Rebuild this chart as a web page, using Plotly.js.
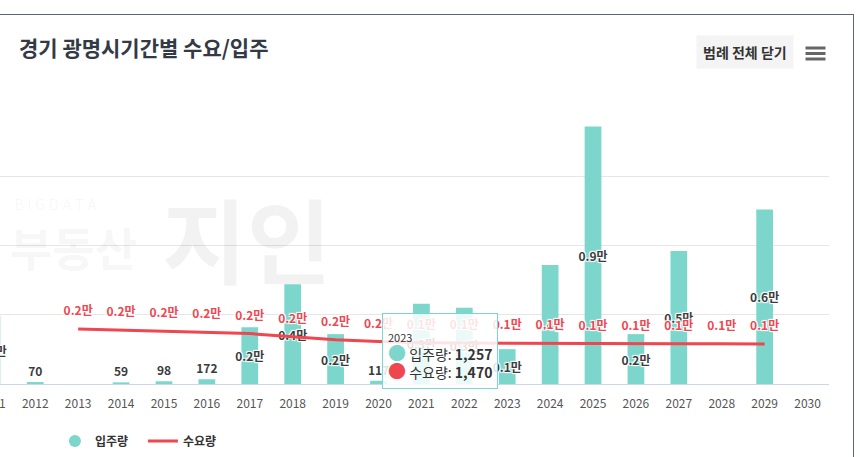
<!DOCTYPE html>
<html>
<head>
<meta charset="utf-8">
<script src="https://cdn.plot.ly/plotly-3.0.1.min.js"></script>
<style>
  html, body { margin:0; padding:0; width:860px; height:457px; overflow:hidden; background:#fff; }
  #frame { position:absolute; left:-150px; top:14px; width:1004px; height:470px; box-sizing:border-box;
           border-top:1px solid #5d6579; border-right:1px solid #5d6579; }
  #chart { position:absolute; left:0; top:0; width:1003px; height:445px; }
</style>
</head>
<body>
<div id="frame"><div id="chart"></div></div>
<script>
// ---- data ----
const years = [2011,2012,2013,2014,2015,2016,2017,2018,2019,2020,2021,2022,2023,2024,2025,2026,2027,2028,2029,2030];
const supply = [2450,70,null,59,98,172,2050,3600,1800,117,2900,2750,1257,4300,9300,1800,4800,null,6300,null];
const demand = [null,null,1990,1950,1910,1870,1820,1710,1600,1530,1490,1480,1470,1465,1460,1455,1450,1450,1445,null];
const tickYears = years;
const supplyName = '입주량';
const demandName = '수요량';
const titleText = '경기 광명시기간별 수요/입주';
const buttonText = '범례 전체 닫기';
const tooltipYear = 2023;

// ---- helpers ----
const FONT = '"Noto Sans CJK KR", "Noto Sans", sans-serif';
const TEAL = '#7cd6cc';
const RED = '#ef4650';
function fmt(v){
  if (v === null || v === undefined) return '';
  if (v >= 1000) return (v/10000).toFixed(1) + '만';
  return String(v);
}
function comma(v){ return v.toLocaleString('en-US'); }

// page-pixel -> paper coordinates (layout positioning only)
const DIVW = 1003, DIVH = 445, ML = 78, MR = 23.5, MT = 92, MB = 76;
const PW = DIVW - ML - MR, PH = DIVH - MT - MB;
function px(xPage){ return (xPage + 150 - ML) / PW; }
function py(yPage){ return (DIVH - MB - (yPage - 15)) / PH; }

const barText = supply.map(fmt);
const barPos = supply.map(v => (v !== null && v < 1000) ? 'outside' : 'inside');
const barColors = years.map((y,i) => i === 0 ? '#f2faf9' : TEAL);
const lineText = demand.map(fmt);

const ti = years.indexOf(tooltipYear);

const traces = [
  {
    type:'bar', x: years, y: supply, name: supplyName, showlegend:false,
    width: 0.39,
    marker:{ color: barColors, line:{ width: years.map((y,i)=> i===0 ? 1 : 0), color:'#dcefed' } },
    text: barText, textposition: barPos, insidetextanchor:'middle', textangle:0,
    constraintext:'none', cliponaxis:false,
    textfont:{ family: FONT, size:12, color:'#3b3b3b', weight:700, shadow:'auto' },
    hoverinfo:'skip'
  },
  {
    type:'scatter', mode:'lines+markers+text', x: years, y: demand, name: demandName,
    line:{ color: RED, width: 3 },
    marker:{ size: 16, color: 'rgba(0,0,0,0)' },
    text: lineText, textposition:'top center', cliponaxis:false,
    textfont:{ family: FONT, size:12, color: RED, weight:700, shadow:'auto' },
    hoverinfo:'skip', legendrank: 2
  },
  {
    type:'scatter', mode:'markers', x:[null], y:[null], name: supplyName,
    marker:{ color: TEAL, size: 12, symbol:'circle' }, legendrank: 1, hoverinfo:'skip'
  }
];

const spacer = '<span style="font-size:20px;color:rgba(0,0,0,0)">●</span>';
const tipText =
  '<span style="font-size:11px">' + tooltipYear + '</span>' + spacer + '<br>' +
  '<span style="color:' + TEAL + ';font-size:18px">●</span> ' + supplyName + ': <b>' + comma(supply[ti]) + '</b><br>' +
  '<span style="color:' + RED + ';font-size:18px">●</span> ' + demandName + ': <b>' + comma(demand[ti]) + '</b>';

const layout = {
  width: DIVW, height: DIVH,
  margin:{ l: ML, r: MR, t: MT, b: MB, pad:0, autoexpand:false },
  paper_bgcolor:'rgba(0,0,0,0)', plot_bgcolor:'rgba(0,0,0,0)',
  font:{ family: FONT, color:'#333' },
  showlegend: true,
  legend:{ orientation:'h', x: px(55), y: py(441), xanchor:'left', yanchor:'middle',
           font:{ family: FONT, size:12, color:'#333', weight:700 }, itemwidth:30,
           entrywidth: 43, entrywidthmode:'pixels',
           traceorder:'normal', bgcolor:'rgba(0,0,0,0)' },
  xaxis:{ range:[2009.5, 2030.5], tickvals: tickYears, ticktext: tickYears.map(String),
          showgrid:false, zeroline:false, showline:true, linecolor:'#ccd6eb', linewidth:1,
          ticks:'', ticklabelstandoff: 9, automargin:false,
          tickfont:{ family: FONT, size:12, color:'#555' }, fixedrange:true },
  yaxis:{ range:[0, 10000], tickvals:[0,2500,5000,7500,10000], showticklabels:false, automargin:false,
          showgrid:true, gridcolor:'#e6e6e6', gridwidth:1, zeroline:false, fixedrange:true },
  bargap: 0.6,
  annotations:[
    // watermark
    { xref:'paper', yref:'paper', x: px(12), y: py(203), xanchor:'left', yanchor:'middle', showarrow:false,
      text:'B I G D A T A', font:{ family: FONT, size:15, color:'rgba(0,0,0,0.045)' } },
    { xref:'paper', yref:'paper', x: px(8), y: py(246), xanchor:'left', yanchor:'middle', showarrow:false,
      text:'부동산', font:{ family: FONT, size:46, color:'rgba(0,0,0,0.05)', weight:700 } },
    { xref:'paper', yref:'paper', x: px(160), y: py(236), xanchor:'left', yanchor:'middle', showarrow:false,
      text:'지인', font:{ family: FONT, size:92, color:'rgba(0,0,0,0.05)', weight:700 } },
    // title
    { xref:'paper', yref:'paper', x: px(17), y: py(47), xanchor:'left', yanchor:'middle', showarrow:false,
      text: titleText, font:{ family: FONT, size:21, color:'#333a44', weight:700 } },
    // legend toggle button
    { xref:'paper', yref:'paper', x: px(745), y: py(52), xanchor:'center', yanchor:'middle', showarrow:false,
      text: buttonText, bgcolor:'#f4f4f4', borderpad:6,
      font:{ family: FONT, size:14, color:'#333', weight:700 } },
    // tooltip
    { xref:'paper', yref:'paper', x: px(382), y: py(313), xanchor:'left', yanchor:'top', showarrow:false,
      align:'left', text: tipText, bgcolor:'rgba(255,255,255,0.85)', bordercolor: TEAL, borderwidth:1, borderpad:5,
      font:{ family: FONT, size:14, color:'#333' } }
  ],
  shapes:[
    { type:'rect', xref:'paper', yref:'paper', x0: px(806), x1: px(826), y0: py(46.5), y1: py(49.5), fillcolor:'#666', line:{width:0} },
    { type:'rect', xref:'paper', yref:'paper', x0: px(806), x1: px(826), y0: py(52), y1: py(55), fillcolor:'#666', line:{width:0} },
    { type:'rect', xref:'paper', yref:'paper', x0: px(806), x1: px(826), y0: py(57.5), y1: py(60.5), fillcolor:'#666', line:{width:0} }
  ]
};

Plotly.newPlot('chart', traces, layout, { displayModeBar:false, staticPlot:true });
</script>
</body>
</html>
